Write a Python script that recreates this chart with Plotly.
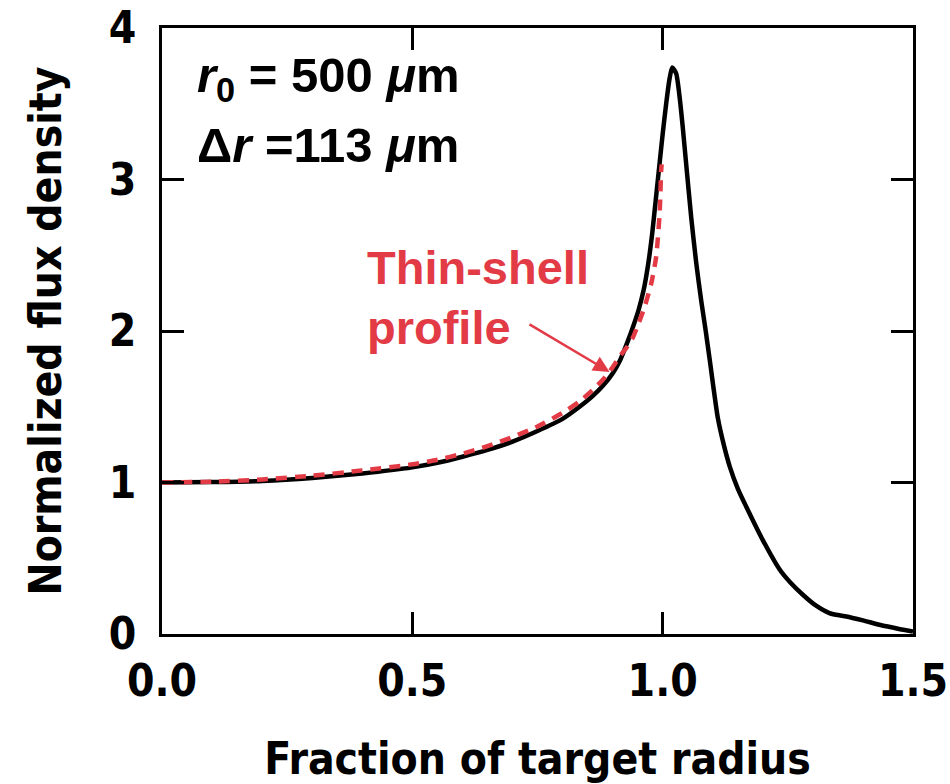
import plotly.graph_objects as go

# Measured profile (black)
meas_x = [0.00, 0.10, 0.20, 0.30, 0.40, 0.50, 0.55, 0.60, 0.65, 0.70, 0.75, 0.80, 0.834, 0.86,
          0.881, 0.90, 0.914, 0.93, 0.941, 0.952, 0.962, 0.971, 0.979, 0.986, 0.993, 1.000, 1.007,
          1.0135, 1.019, 1.027, 1.034, 1.040, 1.047, 1.057, 1.067, 1.077, 1.086, 1.094, 1.110,
          1.122, 1.134, 1.150, 1.167, 1.200, 1.234, 1.255, 1.280, 1.305, 1.333, 1.350, 1.367,
          1.40, 1.433, 1.47, 1.50]
meas_y = [1.00, 1.003, 1.01, 1.03, 1.06, 1.10, 1.13, 1.17, 1.215, 1.27, 1.34, 1.42, 1.50, 1.57,
          1.64, 1.72, 1.80, 1.93, 2.03, 2.14, 2.27, 2.44, 2.64, 2.86, 3.08, 3.30, 3.50,
          3.66, 3.74, 3.70, 3.54, 3.35, 3.10, 2.75, 2.45, 2.20, 2.00, 1.81, 1.43,
          1.25, 1.105, 0.96, 0.84, 0.62, 0.424, 0.34, 0.259, 0.19, 0.138, 0.125, 0.116,
          0.09, 0.061, 0.035, 0.017]

# Thin-shell profile (red dashed)
thin_x = [0.00, 0.10, 0.20, 0.30, 0.40, 0.50, 0.55, 0.60, 0.65, 0.70, 0.75, 0.80, 0.834, 0.86,
          0.881, 0.90, 0.914, 0.93, 0.941, 0.953, 0.964, 0.977, 0.987, 0.994, 0.997, 0.998]
thin_y = [1.00, 1.005, 1.02, 1.045, 1.08, 1.12, 1.15, 1.19, 1.24, 1.30, 1.37, 1.46, 1.535, 1.61,
          1.68, 1.76, 1.83, 1.90, 1.96, 2.06, 2.16, 2.31, 2.49, 2.78, 3.06, 3.10]

x_ticks = [0.0, 0.5, 1.0, 1.5]
x_ticklabels = ["0.0", "0.5", "1.0", "1.5"]
y_ticks = [0, 1, 2, 3, 4]
y_ticklabels = ["0", "1", "2", "3", "4"]

RED = "#E23B46"
COND = "Liberation Sans Narrow, DejaVu Sans Condensed, Arial Narrow, sans-serif"
SANS = "Liberation Sans, Arial, Helvetica, sans-serif"

fig = go.Figure()
fig.add_trace(go.Scatter(x=meas_x, y=meas_y, mode="lines",
                         line=dict(color="black", width=4.5, shape="spline", smoothing=0.6),
                         showlegend=False, hoverinfo="skip"))
fig.add_trace(go.Scatter(x=thin_x, y=thin_y, mode="lines",
                         line=dict(color=RED, width=4.5, dash="11px,8px", shape="spline", smoothing=0.6),
                         showlegend=False, hoverinfo="skip"))

axis_common = dict(showline=True, linecolor="black", linewidth=3, mirror="ticks",
                   ticks="inside", ticklen=22, tickwidth=2.5, tickcolor="black",
                   showgrid=False, zeroline=False, automargin=False,
                   tickfont=dict(family=COND, size=44, color="black", weight="bold"))

fig.update_xaxes(range=[0, 1.5], tickvals=x_ticks, ticktext=x_ticklabels, ticklabelstandoff=6,
                 title=dict(text="Fraction of target radius", standoff=40,
                            font=dict(family=COND, size=44, color="black", weight="bold")),
                 **axis_common)
fig.update_yaxes(range=[0, 4], tickvals=y_ticks, ticktext=y_ticklabels, ticklabelstandoff=14,
                 title=dict(text="Normalized flux density", standoff=34,
                            font=dict(family=COND, size=44, color="black", weight="bold")),
                 **axis_common)

# Parameter labels
fig.add_annotation(x=0.066, y=3.67, xref="x", yref="y", xanchor="left", yanchor="middle",
                   text="<i>r</i><sub>0</sub> = 500 <i>\u03bc</i>m", showarrow=False, align="left",
                   font=dict(family=SANS, size=49, color="black", weight="bold"))
fig.add_annotation(x=0.066, y=3.23, xref="x", yref="y", xanchor="left", yanchor="middle",
                   text="\u0394<i>r</i> =113 <i>\u03bc</i>m", showarrow=False, align="left",
                   font=dict(family=SANS, size=49, color="black", weight="bold"))

# Thin-shell label
fig.add_annotation(x=0.405, y=2.42, xref="x", yref="y", xanchor="left", yanchor="middle",
                   text="Thin-shell", showarrow=False,
                   font=dict(family=SANS, size=47, color=RED, weight="bold"))
fig.add_annotation(x=0.405, y=2.02, xref="x", yref="y", xanchor="left", yanchor="middle",
                   text="profile", showarrow=False,
                   font=dict(family=SANS, size=47, color=RED, weight="bold"))
# Arrow
fig.add_annotation(x=0.894, y=1.73, ax=0.731, ay=2.05, xref="x", yref="y", axref="x", ayref="y",
                   text="", showarrow=True, arrowhead=2, arrowsize=1.3, arrowwidth=2.5,
                   arrowcolor=RED, standoff=0)

fig.update_layout(width=950, height=784, margin=dict(l=162, r=37, t=28, b=150),
                  paper_bgcolor="white", plot_bgcolor="white")

fig.write_html("out.html")
